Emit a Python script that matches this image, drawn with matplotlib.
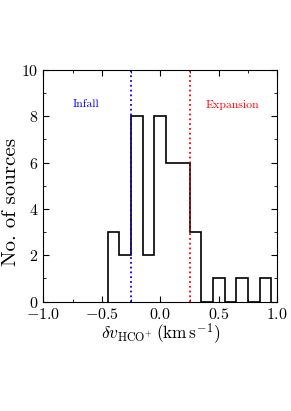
import numpy as np
import matplotlib.pyplot as plt
from matplotlib.ticker import MultipleLocator

plt.rcParams['font.family'] = 'serif'
plt.rcParams['font.serif'] = ['cmr10']
plt.rcParams['mathtext.fontset'] = 'cm'
plt.rcParams['axes.formatter.use_mathtext'] = True

# histogram of velocity differences, bin width 0.1 km/s
bin_edges = [-0.45, -0.35, -0.25, -0.15, -0.05, 0.05, 0.15, 0.25,
             0.35, 0.45, 0.55, 0.65, 0.75, 0.85, 0.95]
counts = [3, 2, 8, 2, 8, 6, 6, 3, 0, 1, 0, 1, 0, 1]
infall_cut = -0.25
expansion_cut = 0.25

fig = plt.figure(figsize=(2.91, 4.11), dpi=100)
ax = fig.add_axes([0.149, 0.266, 0.804, 0.564])

centers = np.array(bin_edges[:-1]) + 0.05
ax.hist(centers, bins=bin_edges, weights=counts, histtype='step',
        color='black', lw=1.2)

ax.axvline(infall_cut, color='blue', ls=':', lw=1.3)
ax.axvline(expansion_cut, color='red', ls=':', lw=1.3)
ax.text(-0.635, 8.5, 'Infall', color='blue', fontsize=8.5, ha='center', va='center')
ax.text(0.62, 8.5, 'Expansion', color='red', fontsize=8.5, ha='center', va='center')

ax.set_xlim(-1.0, 1.0)
ax.set_ylim(0, 10)
ax.xaxis.set_major_locator(MultipleLocator(0.5))
ax.xaxis.set_minor_locator(MultipleLocator(0.25))
ax.yaxis.set_major_locator(MultipleLocator(2))
ax.yaxis.set_minor_locator(MultipleLocator(1))
ax.tick_params(which='both', direction='in', top=True, right=True, labelsize=11.5)
ax.tick_params(which='major', length=4)
ax.tick_params(which='minor', length=2.5)
ax.tick_params(axis='x', pad=4)
ax.xaxis.set_major_formatter(plt.FuncFormatter(lambda v, p: '$%.1f$' % v))

ax.set_xlabel(r'$\delta v_{\rm HCO^{+}}\,({\rm km\,s^{-1}})$', fontsize=12.5, labelpad=0)
ax.set_ylabel('No. of sources', fontsize=15)
ax.yaxis.set_label_coords(-0.1, 0.43)

fig.savefig('out.png', dpi=100)
